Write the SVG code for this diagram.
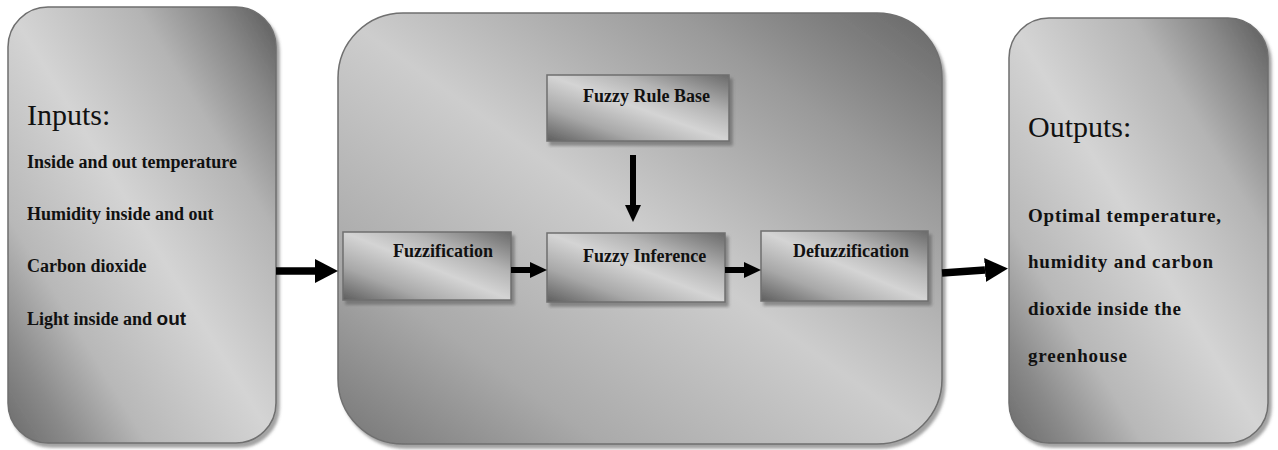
<svg xmlns="http://www.w3.org/2000/svg" width="1278" height="450" viewBox="0 0 1278 450">
  <defs>
    <linearGradient id="gBig" x1="1" y1="0" x2="0" y2="1">
      <stop offset="0" stop-color="#5a5a5a"/>
      <stop offset="0.12" stop-color="#888888"/>
      <stop offset="0.26" stop-color="#b4b4b4"/>
      <stop offset="0.5" stop-color="#d4d4d4"/>
      <stop offset="0.74" stop-color="#b8b8b8"/>
      <stop offset="0.88" stop-color="#8a8a8a"/>
      <stop offset="1" stop-color="#6a6a6a"/>
    </linearGradient>
    <linearGradient id="gMid" x1="1" y1="0" x2="0" y2="1">
      <stop offset="0" stop-color="#666666"/>
      <stop offset="0.22" stop-color="#9a9a9a"/>
      <stop offset="0.5" stop-color="#cdcdcd"/>
      <stop offset="0.78" stop-color="#aaaaaa"/>
      <stop offset="1" stop-color="#767676"/>
    </linearGradient>
    <linearGradient id="gSmall" x1="1" y1="0" x2="0" y2="1">
      <stop offset="0" stop-color="#6a6a6a"/>
      <stop offset="0.3" stop-color="#b4b4b4"/>
      <stop offset="0.5" stop-color="#d4d4d4"/>
      <stop offset="0.75" stop-color="#a8a8a8"/>
      <stop offset="1" stop-color="#5e5e5e"/>
    </linearGradient>
    <filter id="shadow" x="-5%" y="-5%" width="115%" height="115%">
      <feDropShadow dx="3" dy="4" stdDeviation="1.5" flood-color="#555555" flood-opacity="0.55"/>
    </filter>
    <marker id="headBig" markerUnits="userSpaceOnUse" viewBox="0 0 23 24" markerWidth="23" markerHeight="24" refX="0" refY="12" orient="auto">
      <path d="M0,0 L23,12 L0,24 Z" fill="#000"/>
    </marker>
    <marker id="headSmall" markerUnits="userSpaceOnUse" viewBox="0 0 17 16" markerWidth="17" markerHeight="16" refX="0" refY="8" orient="auto">
      <path d="M0,0 L17,8 L0,16 Z" fill="#000"/>
    </marker>
    <style>
      .big { stroke: #6f6f6f; stroke-width: 1.5; filter: url(#shadow); }
      .box { fill: url(#gSmall); stroke: #6f6f6f; stroke-width: 1.5; filter: url(#shadow); }
      .title { font-family: "Liberation Serif", "Times New Roman", serif; font-size: 30px; fill: #111; }
      .item { font-family: "Liberation Serif", "Times New Roman", serif; font-size: 18px; font-weight: bold; fill: #111; }
      .oitem { font-family: "Liberation Serif", "Times New Roman", serif; font-size: 19px; font-weight: bold; fill: #111; }
      .sans { font-family: "Liberation Sans", Arial, sans-serif; font-size: 19px; font-weight: bold; }
      .lbl { font-family: "Liberation Serif", "Times New Roman", serif; font-size: 18px; font-weight: bold; fill: #111; }
      .thick { stroke: #000; stroke-width: 7.5; fill: none; marker-end: url(#headBig); }
      .thin { stroke: #000; stroke-width: 6; fill: none; marker-end: url(#headSmall); }
    </style>
  </defs>
  <rect width="1278" height="450" fill="#ffffff"/>

  <g id="inputs">
    <rect class="big" x="8" y="7" width="268" height="436" rx="40" ry="40" fill="url(#gBig)"/>
    <text class="title" x="27" y="125">Inputs:</text>
    <text class="item" x="27" y="168" textLength="210" lengthAdjust="spacingAndGlyphs">Inside and out temperature</text>
    <text class="item" x="27" y="220">Humidity inside and out</text>
    <text class="item" x="27" y="272">Carbon dioxide</text>
    <text class="item" x="27" y="325">Light inside and <tspan class="sans">out</tspan></text>
  </g>

  <g id="controller">
    <rect class="big" x="338" y="13" width="604" height="431" rx="65" ry="65" fill="url(#gMid)"/>
  </g>

  <g id="rulebase">
    <rect class="box" x="547" y="75" width="182" height="66"/>
    <text class="lbl" x="583" y="102">Fuzzy Rule Base</text>
  </g>

  <g id="fuzzification">
    <rect class="box" x="343" y="232" width="168" height="68"/>
    <text class="lbl" x="393" y="257">Fuzzification</text>
  </g>

  <g id="inference">
    <rect class="box" x="547" y="233" width="178" height="69"/>
    <text class="lbl" x="583" y="262">Fuzzy Inference</text>
  </g>

  <g id="defuzzification">
    <rect class="box" x="761" y="231" width="167" height="70"/>
    <text class="lbl" x="793" y="257">Defuzzification</text>
  </g>

  <g id="outputs">
    <rect class="big" x="1009" y="18" width="259" height="425" rx="40" ry="40" fill="url(#gBig)"/>
    <text class="title" x="1028" y="137">Outputs:</text>
    <text class="oitem" x="1028" y="222" textLength="193" lengthAdjust="spacing">Optimal temperature,</text>
    <text class="oitem" x="1028" y="268" textLength="185" lengthAdjust="spacing">humidity and carbon</text>
    <text class="oitem" x="1028" y="315" textLength="153" lengthAdjust="spacing">dioxide inside the</text>
    <text class="oitem" x="1028" y="362" textLength="99" lengthAdjust="spacing">greenhouse</text>
  </g>

  <g id="connectors">
    <line class="thick" x1="276" y1="271" x2="315" y2="271"/>
    <line class="thin" x1="511" y1="270" x2="530" y2="270"/>
    <line class="thin" x1="633" y1="155" x2="633" y2="205"/>
    <line class="thin" x1="725" y1="270" x2="744" y2="270"/>
    <line class="thick" x1="942" y1="273" x2="985" y2="270"/>
  </g>
</svg>
